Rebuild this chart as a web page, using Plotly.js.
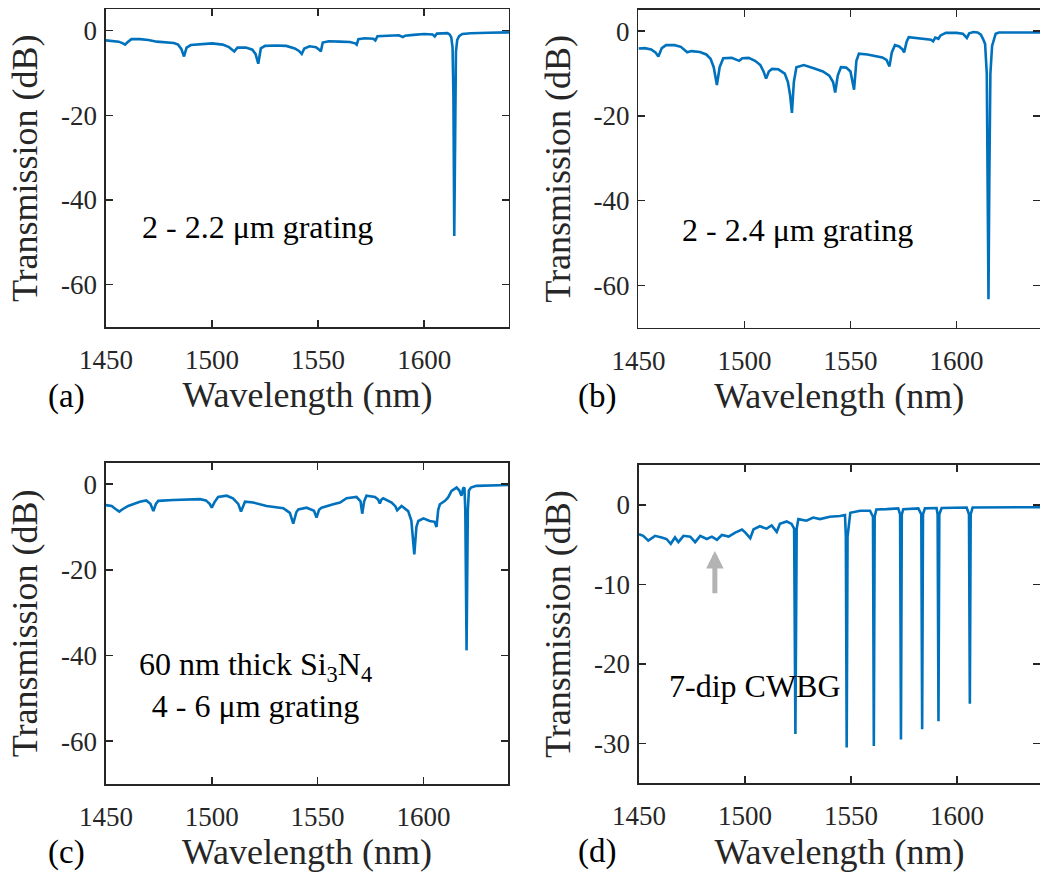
<!DOCTYPE html>
<html>
<head>
<meta charset="utf-8">
<script src="https://cdn.plot.ly/plotly-3.0.1.min.js"></script>
<style>html,body{margin:0;padding:0;background:#fff;}#chart{width:1040px;height:877px;}</style>
</head>
<body>
<div id="chart"></div>
<script>
// Transmission spectra (wavelength nm, transmission dB)
const panelA = [[1450,-2.3],[1453,-2.4],[1456,-2.6],[1458,-3.0],[1459,-3.3],[1460,-2.8],[1462,-2.0],[1466,-2.0],[1470,-2.2],[1474,-2.6],[1478,-2.8],[1482,-2.9],[1484,-3.3],[1485.5,-4.3],[1486.8,-6.1],[1488,-4.0],[1490,-3.4],[1495,-3.2],[1500,-3.0],[1505,-3.3],[1508,-3.9],[1510.5,-4.9],[1512,-4.0],[1516,-4.0],[1519,-4.5],[1520.5,-5.5],[1521.8,-7.8],[1523,-4.2],[1525,-3.6],[1530,-3.5],[1535,-3.6],[1539,-4.2],[1541,-4.8],[1542.3,-5.5],[1543.5,-4.2],[1546,-3.7],[1549,-3.9],[1550.5,-4.5],[1551.3,-4.9],[1552.2,-2.8],[1555,-2.5],[1560,-2.6],[1565,-2.7],[1567.5,-3.0],[1568.2,-3.3],[1569,-2.0],[1572,-1.8],[1576,-1.9],[1577,-2.3],[1578,-1.3],[1583,-1.2],[1588,-1.1],[1590,-1.5],[1591,-1.2],[1595,-1.0],[1600,-0.8],[1604,-0.9],[1605,-1.4],[1606,-0.7],[1609,-0.6],[1611,-0.6],[1612,-0.9],[1612.8,-1.6],[1613.4,-4],[1613.8,-15],[1614.2,-48.5],[1614.6,-16],[1615,-5],[1615.6,-2.2],[1616.5,-1.3],[1618,-0.8],[1622,-0.6],[1630,-0.5],[1640,-0.4]];

const panelB = [[1450,-4.1],[1453,-4.0],[1456,-4.3],[1458,-5.0],[1459.4,-6.0],[1461,-4.0],[1463,-3.3],[1467,-3.3],[1470,-3.7],[1472,-4.5],[1473,-5.0],[1475,-4.7],[1479,-4.9],[1482,-5.5],[1484,-6.5],[1485.5,-8.5],[1487,-12.7],[1488.3,-8.5],[1490,-6.4],[1494,-6.3],[1497.5,-7.0],[1499,-6.4],[1502,-6.3],[1505,-7.0],[1507.5,-8.0],[1509,-9.5],[1510.2,-11.2],[1511.5,-9.5],[1513,-8.9],[1516,-9.0],[1519,-10.0],[1520.5,-12],[1521.5,-15],[1522.4,-19.3],[1523.3,-12],[1524.5,-8.5],[1528,-8.0],[1533,-8.8],[1537,-9.5],[1540,-10.5],[1541.8,-12],[1542.8,-14.5],[1544,-10.5],[1545.5,-8.5],[1548,-8.6],[1550,-9.5],[1551.7,-13.8],[1552.8,-7],[1554,-5.3],[1558,-5.5],[1562,-5.8],[1565,-6.2],[1567,-6.8],[1568.4,-8.3],[1569.5,-5],[1571,-3.3],[1573,-3.6],[1574.5,-4.3],[1575.3,-5.0],[1576.5,-2.5],[1577.5,-1.4],[1582,-1.7],[1586,-1.9],[1588,-2.0],[1589,-2.4],[1590,-1.5],[1591.5,-1.8],[1592.5,-1.0],[1595,-0.4],[1600,-0.4],[1603,-0.6],[1604.9,-1.6],[1606,-0.5],[1608,-0.2],[1610,-0.3],[1611.5,-0.8],[1612.5,-1.8],[1613.5,-3],[1614.3,-10],[1614.8,-35],[1615.1,-63.3],[1615.5,-35],[1616,-10],[1616.8,-3.5],[1617.5,-2],[1618.5,-0.6],[1620,-0.3],[1630,-0.3],[1640,-0.3]];

const panelC = [[1450,-4.9],[1452.7,-5.1],[1454.5,-5.8],[1456.3,-6.4],[1458,-5.8],[1460.5,-5.1],[1466,-4.1],[1469,-3.8],[1471,-4.6],[1472.4,-6.3],[1473.6,-4.6],[1474.7,-3.9],[1481.8,-3.7],[1494.4,-3.5],[1497.2,-3.8],[1499,-4.6],[1500,-5.5],[1501.3,-4.2],[1503,-3.0],[1507,-2.7],[1510,-3.3],[1512.5,-4.6],[1513.8,-6.4],[1515,-4.6],[1515.7,-4.1],[1519.6,-4.3],[1525.9,-5.1],[1533.8,-5.6],[1536.9,-6.7],[1538.5,-9.2],[1540,-6.5],[1540.9,-5.9],[1544.8,-5.5],[1548.3,-6.2],[1549.5,-7.8],[1550.7,-6.0],[1551.9,-5.5],[1557.4,-4.7],[1560.6,-4.3],[1563.7,-3.3],[1568.4,-3.0],[1570.3,-4.0],[1571.1,-6.9],[1572,-4.0],[1573.1,-2.7],[1577.1,-3.0],[1578.6,-3.6],[1579.4,-4.5],[1580.2,-3.6],[1581,-3.3],[1585,-4.3],[1586.8,-5.2],[1587.6,-6.1],[1589.7,-5.1],[1592.8,-6.3],[1594.3,-8.5],[1595.7,-16.4],[1596.7,-10],[1597.6,-8.6],[1600,-8.0],[1603,-8.6],[1605.3,-8.8],[1606.2,-10],[1607,-6],[1607.8,-4.7],[1610.2,-3.9],[1611.7,-3.1],[1613.3,-1.6],[1615.7,-0.8],[1617,-1.5],[1618,-2.7],[1618.8,-1.0],[1619.4,-0.8],[1619.8,-6],[1620.4,-38.8],[1621,-6],[1621.5,-1.5],[1622.5,-0.8],[1625,-0.4],[1640,-0.2]];

const panelD = [[1450,-3.7],[1452,-3.9],[1454.4,-4.5],[1457.6,-3.9],[1460.7,-4.1],[1463,-4.3],[1465,-4.9],[1467,-4.1],[1468.6,-4.7],[1471,-3.9],[1474.2,-4.0],[1476.5,-4.7],[1478.9,-3.9],[1482,-4.3],[1484.4,-4.0],[1486.8,-4.4],[1489.1,-3.8],[1492.3,-4.0],[1495.4,-3.5],[1498.6,-3.1],[1500.2,-3.5],[1502.5,-4.2],[1504,-3.1],[1507,-2.7],[1510.2,-3.0],[1512.6,-2.6],[1515,-3.4],[1516.5,-2.4],[1519.7,-2.1],[1522,-2.4],[1523.2,-3.0],[1523.8,-28.8],[1524.4,-3.0],[1525.2,-1.8],[1529,-2.0],[1532.2,-1.6],[1535.4,-1.8],[1540,-1.5],[1544.8,-1.4],[1547.2,-1.3],[1547.6,-4],[1548,-30.5],[1548.4,-4],[1549.7,-1.0],[1554.4,-0.75],[1559,-0.75],[1560.4,-1.5],[1560.8,-30.3],[1561.2,-1.5],[1562,-0.6],[1566.8,-0.55],[1572.3,-0.45],[1573.2,-1.2],[1573.6,-29.5],[1574,-1.2],[1574.7,-0.55],[1581.8,-0.45],[1583.2,-1.2],[1583.6,-28.2],[1584,-1.2],[1584.9,-0.45],[1590.4,-0.4],[1590.9,-1.2],[1591.3,-27.2],[1591.7,-1.2],[1592.8,-0.4],[1604.6,-0.35],[1605.7,-1.2],[1606.1,-25],[1606.5,-1.2],[1607.4,-0.35],[1620,-0.3],[1640,-0.3]];

const xTickVals = [1450, 1500, 1550, 1600];
const xTickText = ['1450', '1500', '1550', '1600'];
const yTickValsABC = [0, -20, -40, -60];
const yTickTextABC = ['0', '-20', '-40', '-60'];
const yTickValsD = [0, -10, -20, -30];
const yTickTextD = ['0', '-10', '-20', '-30'];
const panelLabels = ['(a)', '(b)', '(c)', '(d)'];
const panelNotes = ['2 - 2.2 μm grating', '2 - 2.4 μm grating', '60 nm thick Si<sub>3</sub>N<sub>4</sub><br>4 - 6 μm grating', '7-dip CWBG'];

const FONT = "'Liberation Serif', 'Times New Roman', serif";
const AX = '#262626';
const LINE = '#0072BD';

function trace(data, xa, ya) {
  return {x: data.map(p => p[0]), y: data.map(p => p[1]), xaxis: xa, yaxis: ya,
    type: 'scatter', mode: 'lines', line: {color: LINE, width: 2.6}, hoverinfo: 'skip', showlegend: false};
}
function xax(domain, range, anchor) {
  return {domain: domain, range: range, anchor: anchor, tickvals: xTickVals, ticktext: xTickText,
    ticks: 'inside', ticklen: 7, tickwidth: 1.5, tickcolor: AX, showline: true, linecolor: AX, linewidth: 1.5,
    mirror: 'ticks', showgrid: false, zeroline: false, ticklabelstandoff: 8,
    tickfont: {family: FONT, size: 27, color: AX},
    title: {text: 'Wavelength (nm)', font: {family: FONT, size: 36, color: AX}, standoff: 8}};
}
function yax(domain, range, anchor, tv, tt) {
  return {domain: domain, range: range, anchor: anchor, tickvals: tv, ticktext: tt,
    ticks: 'inside', ticklen: 7, tickwidth: 1.5, tickcolor: AX, showline: true, linecolor: AX, linewidth: 1.5,
    mirror: 'ticks', showgrid: false, zeroline: false, ticklabelstandoff: 2,
    tickfont: {family: FONT, size: 27, color: AX},
    title: {text: 'Transmission (dB)', font: {family: FONT, size: 36, color: AX}, standoff: 12}};
}

const data = [trace(panelA, 'x', 'y'), trace(panelB, 'x2', 'y2'), trace(panelC, 'x3', 'y3'), trace(panelD, 'x4', 'y4')];

const noteFont = {family: FONT, size: 32, color: '#000'};
const letterFont = {family: FONT, size: 33, color: '#000'};

function letter(text, x, y) {
  return {text: text, xref: 'paper', yref: 'paper', x: x, y: y, xanchor: 'center', yanchor: 'middle',
    showarrow: false, font: letterFont};
}

const layout = {
  width: 1040, height: 877, margin: {l: 0, r: 0, t: 0, b: 0},
  paper_bgcolor: '#fff', plot_bgcolor: '#fff',
  xaxis: xax([0.1019, 0.4894], [1450, 1640], 'y'),
  yaxis: yax([0.6271, 0.9892], [-70, 5], 'x', yTickValsABC, yTickTextABC),
  xaxis2: xax([0.6139, 1], [1450, 1639.4], 'y2'),
  yaxis2: yax([0.6263, 0.9886], [-70, 5], 'x2', yTickValsABC, yTickTextABC),
  xaxis3: xax([0.1019, 0.4885], [1450, 1640], 'y3'),
  yaxis3: yax([0.1060, 0.4724], [-70, 5], 'x3', yTickValsABC, yTickTextABC),
  xaxis4: xax([0.6144, 1], [1450, 1639.2], 'y4'),
  yaxis4: yax([0.1068, 0.4698], [-35, 5], 'x4', yTickValsD, yTickTextD),
  annotations: [
    {text: panelNotes[0], xref: 'x', yref: 'y', x: 1521.5, y: -46.4, xanchor: 'center', yanchor: 'middle', showarrow: false, font: noteFont},
    {text: panelNotes[1], xref: 'x2', yref: 'y2', x: 1525.1, y: -46.9, xanchor: 'center', yanchor: 'middle', showarrow: false, font: noteFont},
    {text: panelNotes[2], xref: 'x3', yref: 'y3', x: 1520.8, y: -46.9, xanchor: 'center', yanchor: 'middle', showarrow: false, font: noteFont, align: 'center'},
    {text: panelNotes[3], xref: 'x4', yref: 'y4', x: 1504.7, y: -22.8, xanchor: 'center', yanchor: 'middle', showarrow: false, font: noteFont},
    {text: '', xref: 'x4', yref: 'y4', x: 1485.8, y: -5.8, axref: 'x4', ayref: 'y4', ax: 1485.8, ay: -11.3,
      showarrow: true, arrowhead: 2, arrowsize: 0.7, arrowwidth: 5, arrowcolor: '#b3b3b3'},
    letter(panelLabels[0], 0.0641, 0.5477),
    letter(panelLabels[1], 0.5738, 0.5477),
    letter(panelLabels[2], 0.0641, 0.0274),
    letter(panelLabels[3], 0.5738, 0.0290)
  ]
};

Plotly.newPlot('chart', data, layout, {staticPlot: true, displayModeBar: false});
</script>
</body>
</html>
